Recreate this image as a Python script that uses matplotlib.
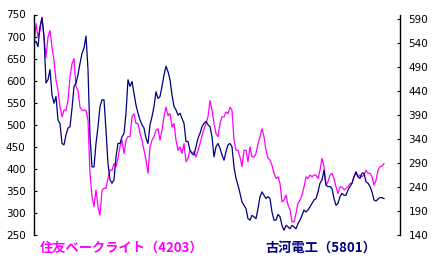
import matplotlib
matplotlib.use("Agg")
import matplotlib.pyplot as plt

# 住友ベークライト (left axis)
sumibe = [676, 729, 699, 714, 744, 699, 653, 699, 714, 676, 646, 601, 578, 540,
          518, 533, 533, 555, 608, 638, 650, 586, 578, 540, 533, 533, 533, 510,
          390, 337, 314, 352, 314, 295, 352, 356, 356, 378, 397, 397, 412, 405,
          424, 450, 465, 435, 465, 473, 473, 518, 525, 503, 503, 480, 465, 442,
          420, 390,
          450, 465, 473, 488, 491, 465, 488, 518, 540, 521, 525, 495, 503, 465,
          442, 450, 435, 457, 416, 424, 442, 435, 439, 427, 442, 457, 476, 491,
          503, 518,
          555, 533, 503, 480, 473, 503, 518, 518, 529, 525, 540, 533, 465, 442,
          442, 427, 405, 442, 442, 416, 450, 427, 427, 435, 457, 473, 491, 473,
          442, 424,
          420, 408, 390, 378, 382, 367, 325, 329, 341, 318, 307, 280, 280, 299,
          322, 329, 341, 359, 382, 378, 386, 382, 386, 386, 378, 397, 424, 405,
          363, 371,
          386, 390, 378, 359, 344, 359, 359, 352, 356, 359, 367, 367, 382, 390,
          382, 386, 382, 386, 397, 390, 390, 382, 363, 374, 397, 405, 406, 412]

# 古河電工 (right axis)
furukawa = [540, 544, 533, 575, 593, 554, 457, 464, 485, 432, 415, 429, 380, 373,
            331, 328, 349, 363, 366, 404, 450, 457, 474, 498, 519, 530, 555, 485,
            345, 282, 282, 331, 366, 408, 422, 422, 359, 289, 255, 248, 255, 303,
            331, 331, 345, 352, 394, 464, 450, 460, 436, 411, 394, 380, 370, 363,
            342, 331,
            370, 387, 408, 439, 425, 429, 450, 474, 492, 481, 464, 432, 408, 401,
            390, 394, 383, 373, 335, 335, 317, 310, 307, 324, 342, 352, 366, 373,
            377, 370,
            366, 345, 303, 324, 331, 321, 307, 296, 314, 328, 331, 324, 282, 258,
            244, 227, 209, 202, 195, 174, 171, 181, 178, 174, 195, 220, 230, 223,
            216, 220,
            216, 188, 171, 171, 183, 178, 160, 150, 160, 157, 153, 160, 157, 153,
            164, 171, 181, 192, 188, 192, 199, 206, 213, 216, 230, 248, 255, 275,
            244, 241,
            241, 237, 216, 202, 206, 220, 227, 223, 223, 234, 241, 248, 262, 272,
            262, 258, 269, 269, 251, 248, 241, 230, 213, 211, 215, 218, 218, 216]

left_ticks = [250, 300, 350, 400, 450, 500, 550, 600, 650, 700, 750]
right_ticks = [140, 190, 240, 290, 340, 390, 440, 490, 540, 590]

fig = plt.figure(figsize=(4.33, 2.67), dpi=100)
ax = fig.add_axes([34 / 433, 1 - 235 / 267, 366 / 433, 220.5 / 267])
ax2 = ax.twinx()

ax.plot(range(len(sumibe)), sumibe, color="#FF00FF", lw=0.9)
ax2.plot(range(len(furukawa)), furukawa, color="#000080", lw=0.9)

ax.set_xlim(0, 183)
ax.set_ylim(250, 750)
ax2.set_ylim(140, 600)
ax.set_yticks(left_ticks)
ax2.set_yticks(right_ticks)
ax.set_xticks([])

for a in (ax, ax2):
    a.spines["top"].set_visible(False)
    a.spines["bottom"].set_visible(False)
    a.tick_params(axis="y", direction="in", length=2.5, width=0.8, pad=6,
                  labelsize=7.5, colors="black")
ax.spines["right"].set_visible(False)
ax.spines["left"].set_linewidth(1.0)
ax2.spines["left"].set_visible(False)
ax2.spines["right"].set_linewidth(1.0)

jp = ["Noto Sans CJK JP", "DejaVu Sans"]
fig.text(40 / 433, 1 - 248 / 267, "住友ベークライト（4203）", color="#FF00FF",
         fontsize=9.5, fontweight="bold", family=jp, va="center", ha="left")
fig.text(265 / 433, 1 - 248 / 267, "古河電工（5801）", color="#000080",
         fontsize=9.5, fontweight="bold", family=jp, va="center", ha="left")

fig.savefig("out.png", dpi=100)
